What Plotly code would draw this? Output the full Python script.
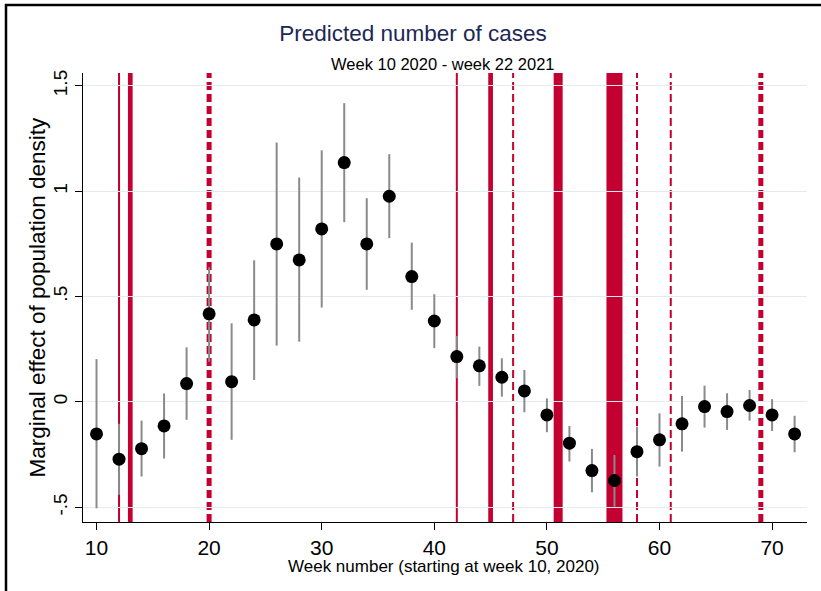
import plotly.graph_objects as go

# ---- data ----
weeks = list(range(10, 73, 2))
estimate = [-0.152, -0.272, -0.222, -0.114, 0.087, 0.418, 0.096, 0.389, 0.750, 0.674,
            0.821, 1.136, 0.750, 0.976, 0.595, 0.384, 0.215, 0.171, 0.117, 0.052,
            -0.062, -0.196, -0.326, -0.373, -0.236, -0.180, -0.104, -0.022, -0.046,
            -0.017, -0.062, -0.152]
ci_high = [0.203, -0.104, -0.089, 0.040, 0.259, 0.639, 0.373, 0.672, 1.231, 1.065,
           1.194, 1.418, 0.967, 1.176, 0.756, 0.511, 0.313, 0.262, 0.207, 0.152,
           0.017, -0.114, -0.223, -0.252, -0.117, -0.054, 0.028, 0.077, 0.041,
           0.057, 0.013, -0.066]
ci_low = [-0.505, -0.441, -0.354, -0.269, -0.085, 0.191, -0.180, 0.104, 0.267, 0.286,
          0.448, 0.853, 0.532, 0.777, 0.437, 0.255, 0.112, 0.076, 0.025, -0.049,
          -0.144, -0.283, -0.429, -0.497, -0.354, -0.307, -0.236, -0.122, -0.133,
          -0.089, -0.138, -0.239]

event_weeks = [12, 13, 20, 42, 45, 47, 51, 56, 58, 61, 69]
event_kind = ["thin", "thick", "thick_dash", "thin", "thick", "thin_dash",
              "heavy", "band", "thin_dash", "thin_dash", "thick_dash"]

y_tickvals = [-0.5, 0, 0.5, 1, 1.5]
y_ticktext = ["-.5", "0", ".5", "1", "1.5"]
x_tickvals = [10, 20, 30, 40, 50, 60, 70]

title_text = "Predicted number of cases"
subtitle_text = "Week 10 2020 - week 22 2021"
x_title = "Week number (starting at week 10, 2020)"
y_title = "Marginal effect of population density"

# ---- styles ----
RED = "#c3002f"
kind_style = {
    "thin": dict(width=2, dash="solid"),
    "thick": dict(width=4.7, dash="solid"),
    "heavy": dict(width=9, dash="solid"),
    "band": dict(width=16, dash="solid"),
    "thin_dash": dict(width=2, dash="8px,4px"),
    "thick_dash": dict(width=5, dash="8px,4px"),
}
FONT = "Liberation Sans, Arial, sans-serif"

fig = go.Figure()

err_plus = [h - e for h, e in zip(ci_high, estimate)]
err_minus = [e - l for e, l in zip(estimate, ci_low)]

fig.add_trace(go.Scatter(
    x=weeks, y=estimate, mode="markers",
    marker=dict(color="black", size=13),
    error_y=dict(type="data", symmetric=False, array=err_plus, arrayminus=err_minus,
                 color="#8a8a8a", thickness=2, width=0),
    showlegend=False, hoverinfo="x+y",
))

shapes = []
for w, k in zip(event_weeks, event_kind):
    st = kind_style[k]
    shapes.append(dict(type="line", xref="x", yref="paper", x0=w, x1=w, y0=0, y1=1,
                       line=dict(color=RED, width=st["width"], dash=st["dash"]),
                       layer="between"))

# outer frame (top and left edges)
L, T, W, H = 83, 73, 724, 449
def px(xp):
    return (xp - L) / W
def py(yp):
    return (T + H - yp) / H
shapes.append(dict(type="line", xref="paper", yref="paper", x0=px(5), x1=px(821),
                   y0=py(5), y1=py(5), line=dict(color="black", width=2.5)))
shapes.append(dict(type="line", xref="paper", yref="paper", x0=px(6), x1=px(6),
                   y0=py(4), y1=py(591), line=dict(color="black", width=2.5)))

annotations = [
    dict(text=subtitle_text, xref="paper", yref="paper", x=px(443), y=py(64),
         xanchor="center", yanchor="middle", showarrow=False,
         font=dict(family=FONT, size=16.5, color="black")),
    dict(text=x_title, xref="paper", yref="paper", x=px(444), y=py(566),
         xanchor="center", yanchor="middle", showarrow=False,
         font=dict(family=FONT, size=17, color="black")),
    dict(text=y_title, xref="paper", yref="paper", x=px(37), y=0.5, textangle=-90,
         xanchor="center", yanchor="middle", showarrow=False,
         font=dict(family=FONT, size=22.5, color="black")),
]

fig.update_layout(
    width=821, height=591,
    margin=dict(l=L, r=821 - L - W, t=T, b=591 - T - H, autoexpand=False),
    paper_bgcolor="white", plot_bgcolor="white",
    title=dict(text=title_text, x=413 / 821, xanchor="center",
               y=1 - 33 / 591, yanchor="middle",
               font=dict(family=FONT, size=22.5, color="#1c2755")),
    shapes=shapes, annotations=annotations,
    font=dict(family=FONT, color="black"),
)

fig.update_xaxes(range=[8.8, 73.1], tickvals=x_tickvals, ticks="outside", ticklen=7,
                 tickcolor="black", showline=True, linecolor="black", linewidth=1,
                 showgrid=False, zeroline=False, tickfont=dict(family=FONT, size=21))
fig.update_yaxes(range=[-0.57, 1.561], tickvals=y_tickvals, ticktext=y_ticktext,
                 tickangle=-90, ticks="outside", ticklen=7, tickcolor="black",
                 showline=True, linecolor="black", linewidth=1,
                 showgrid=True, gridcolor="#e3ebee", gridwidth=1, zeroline=False,
                 tickfont=dict(family=FONT, size=19))

fig.write_html("out.html", config={"displayModeBar": False},
               post_script="document.body.style.margin='0px';document.body.style.padding='0px';")
